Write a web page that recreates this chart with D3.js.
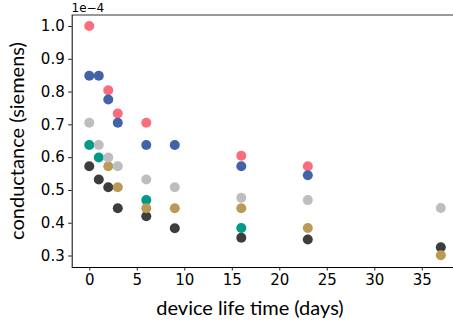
<!DOCTYPE html>
<html>
<head>
<meta charset="utf-8">
<script src="https://cdn.jsdelivr.net/npm/d3@7"></script>
<style>
  body { margin: 0; background: #fff; }
  svg { display: block; }
</style>
</head>
<body>
<div id="chart"></div>
<script>
var width = 453;
var height = 325;

// days and conductance (x1e-4 siemens) per device
var xTicks = [0, 5, 10, 15, 20, 25, 30, 35];
var yTicks = [0.3, 0.4, 0.5, 0.6, 0.7, 0.8, 0.9, 1.0];

var redDays = [0, 2, 3, 6, 16, 23];
var redVals = [1.0, 0.804, 0.733, 0.705, 0.604, 0.572];

var blueDays = [0, 1, 2, 3, 6, 9, 16, 23];
var blueVals = [0.848, 0.848, 0.776, 0.705, 0.637, 0.637, 0.572, 0.545];

var tealDays = [0, 1, 6, 16];
var tealVals = [0.637, 0.599, 0.469, 0.384];

var darkDays = [0, 1, 2, 3, 6, 9, 16, 23, 37];
var darkVals = [0.572, 0.532, 0.508, 0.444, 0.420, 0.383, 0.354, 0.349, 0.325];

var goldDays = [2, 3, 6, 9, 16, 23, 37];
var goldVals = [0.572, 0.508, 0.444, 0.444, 0.444, 0.384, 0.301];

var grayDays = [0, 1, 2, 3, 6, 9, 16, 23, 37];
var grayVals = [0.705, 0.637, 0.599, 0.572, 0.532, 0.508, 0.476, 0.469, 0.445];

var series = [
	{ color: "#fd6b7e", days: redDays, vals: redVals },
	{ color: "#4363a9", days: blueDays, vals: blueVals },
	{ color: "#019a89", days: tealDays, vals: tealVals },
	{ color: "#3d3d3d", days: darkDays, vals: darkVals },
	{ color: "#bb9a58", days: goldDays, vals: goldVals },
	{ color: "#bebebe", days: grayDays, vals: grayVals }
];

var svg = d3.select("#chart")
	.append("svg")
	.attr("width", width)
	.attr("height", height);

var x = d3.scaleLinear().domain([-1.85, 38.85]).range([71.7, 458.4]);
var y = d3.scaleLinear().domain([0.265, 1.035]).range([267, 14.5]);

// spines
svg.append("line")
	.attr("x1", x(-1.85)).attr("x2", width)
	.attr("y1", 15).attr("y2", 15)
	.attr("stroke", "#777").attr("stroke-width", 1.6);

var xAxis = d3.axisBottom(x).tickValues(xTicks).tickSize(3.5).tickPadding(3.5)
	.tickFormat(d3.format("d"));
var yAxis = d3.axisLeft(y).tickValues(yTicks).tickSize(3.5).tickPadding(3.5)
	.tickFormat(d3.format(".1f"));

var gx = svg.append("g")
	.attr("transform", "translate(0," + y(0.265) + ")")
	.call(xAxis);
var gy = svg.append("g")
	.attr("transform", "translate(" + x(-1.85) + ",0)")
	.call(yAxis);

[gx, gy].forEach(function (g) {
	g.selectAll(".domain").attr("stroke", "#000").attr("stroke-width", 1);
	g.selectAll(".tick line").attr("stroke", "#000").attr("stroke-width", 0.9);
	g.selectAll(".tick text")
		.attr("fill", "#000")
		.style("font-family", "DejaVu Sans")
		.style("font-size", "15px");
});
gx.select(".domain").attr("d", "M" + x(-1.85) + ",0.5H" + width);
gy.select(".domain").attr("d", "M0.5," + y(0.265) + "V15");

// points
series.forEach(function (s) {
	svg.append("g")
		.selectAll("circle")
		.data(s.days)
		.enter()
		.append("circle")
		.attr("cx", function (d) { return x(d); })
		.attr("cy", function (d, i) { return y(s.vals[i]); })
		.attr("r", 5)
		.attr("fill", s.color);
});

// labels
svg.append("text")
	.text("1e\u22124")
	.attr("x", 71.5)
	.attr("y", 12)
	.style("font-family", "DejaVu Sans")
	.style("font-size", "12px");

svg.append("text")
	.text("device life time (days)")
	.attr("x", 250)
	.attr("y", 315)
	.style("text-anchor", "middle")
	.style("font-family", "Lato")
	.style("font-size", "20px");

svg.append("text")
	.text("conductance (siemens)")
	.attr("transform", "translate(24,141) rotate(-90)")
	.style("text-anchor", "middle")
	.style("font-family", "Lato")
	.style("font-size", "20px");
</script>
</body>
</html>
